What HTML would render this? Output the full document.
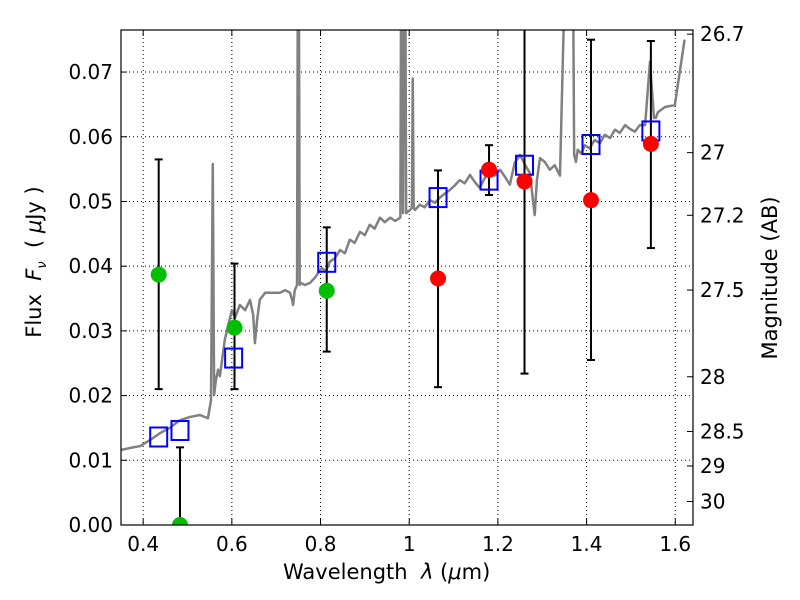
<!DOCTYPE html>
<html><head><meta charset="utf-8">
<style>
body{margin:0;background:#fff;}
svg{display:block;font-family:"DejaVu Sans","Liberation Sans",sans-serif;}
</style></head>
<body>
<svg id="chart" width="800" height="600" viewBox="0 0 800 600"></svg>
<script>
// ---- data ----
const specWave = [0.350,0.370,0.393,0.415,0.438,0.460,0.483,0.506,0.528,0.546,0.553,0.557,0.560,0.564,0.569,0.573,0.578,0.584,0.600,0.607,0.618,0.630,0.641,0.648,0.652,0.657,0.663,0.675,0.686,0.709,0.720,0.731,0.736,0.738,0.742,0.747,0.749,0.751,0.753,0.756,0.765,0.776,0.787,0.803,0.812,0.821,0.832,0.844,0.855,0.866,0.877,0.889,0.900,0.911,0.922,0.934,0.945,0.957,0.968,0.980,0.982,0.984,0.986,0.989,0.991,0.993,1.002,1.006,1.008,1.010,1.013,1.024,1.035,1.047,1.058,1.069,1.080,1.092,1.103,1.114,1.125,1.137,1.148,1.159,1.170,1.182,1.193,1.205,1.216,1.227,1.238,1.250,1.261,1.272,1.283,1.288,1.295,1.306,1.317,1.328,1.340,1.353,1.358,1.362,1.369,1.372,1.376,1.380,1.388,1.396,1.407,1.418,1.430,1.441,1.453,1.464,1.475,1.487,1.498,1.509,1.520,1.532,1.543,1.552,1.556,1.561,1.577,1.599,1.621,1.632,1.640];
const specFlux = [0.0116,0.0119,0.0122,0.0131,0.0142,0.0150,0.0162,0.0167,0.0170,0.0165,0.0193,0.0558,0.0201,0.0224,0.0240,0.0230,0.0255,0.0286,0.0332,0.0320,0.0340,0.0332,0.0348,0.0325,0.0281,0.0317,0.0348,0.0359,0.0359,0.0359,0.0363,0.0359,0.0348,0.0340,0.0363,0.0371,0.09,0.09,0.0371,0.0374,0.0371,0.0374,0.0382,0.0397,0.0392,0.0407,0.0412,0.0425,0.0420,0.0441,0.0436,0.0453,0.0448,0.0464,0.0458,0.0475,0.0468,0.0475,0.0470,0.0475,0.09,0.09,0.0482,0.09,0.09,0.0482,0.0487,0.0490,0.0690,0.0490,0.0487,0.0495,0.0491,0.0502,0.0498,0.0506,0.0512,0.0518,0.0525,0.0533,0.0528,0.0541,0.0530,0.0521,0.0536,0.0546,0.0540,0.0549,0.0538,0.0526,0.0560,0.0572,0.0557,0.0544,0.0479,0.0533,0.0567,0.0561,0.0549,0.0556,0.0540,0.09,0.09,0.09,0.09,0.0572,0.0561,0.0580,0.0574,0.0587,0.0582,0.0595,0.0590,0.0603,0.0598,0.0611,0.0606,0.0618,0.0612,0.0608,0.0618,0.0618,0.0716,0.0629,0.0629,0.0638,0.0646,0.0649,0.075];
const greenWave = [0.435,0.483,0.606,0.814];
const greenFlux = [0.0387,0.0,0.0305,0.0362];
const greenLo = [0.021,0.0,0.021,0.0268];
const greenHi = [0.0565,0.012,0.0404,0.046];
const redWave = [1.065,1.180,1.260,1.410,1.545];
const redFlux = [0.0381,0.0549,0.0531,0.0502,0.0589];
const redLo = [0.0213,0.0510,0.0234,0.0255,0.0428];
const redHi = [0.0548,0.0587,0.0800,0.0750,0.0748];
const modelWave = [0.435,0.483,0.604,0.814,1.065,1.180,1.260,1.410,1.545];
const modelFlux = [0.0136,0.0146,0.0258,0.0406,0.0506,0.0533,0.0556,0.0588,0.0609];
const xTicks = [0.4,0.6,0.8,1.0,1.2,1.4,1.6];
const xTickLabels = ["0.4","0.6","0.8","1","1.2","1.4","1.6"];
const yTicks = [0,0.01,0.02,0.03,0.04,0.05,0.06,0.07];
const yTickLabels = ["0.00","0.01","0.02","0.03","0.04","0.05","0.06","0.07"];
const magTicks = [26.7,27,27.2,27.5,28,28.5,29,30];
const magTickLabels = ["26.7","27","27.2","27.5","28","28.5","29","30"];

// ---- axes ----
const L=121,R=693,T=30,B=525;
const xMin=0.35,xMax=1.64,yMin=0,yMax=0.0765;
const X=v=>L+(v-xMin)/(xMax-xMin)*(R-L);
const Y=v=>B-(v-yMin)/(yMax-yMin)*(B-T);
const magToFlux=m=>Math.pow(10,(23.9-m)/2.5);
const NS="http://www.w3.org/2000/svg";
const svg=document.getElementById('chart');
function mk(tag,attrs,parent){const e=document.createElementNS(NS,tag);for(const k in attrs)e.setAttribute(k,attrs[k]);(parent||svg).appendChild(e);return e;}

const defs=mk('defs',{});
const cp=mk('clipPath',{id:'clip'},defs);
mk('rect',{x:L,y:T,width:R-L,height:B-T},cp);

const grid=mk('g',{});


xTicks.forEach(v=>mk('line',{x1:X(v),x2:X(v),y1:T,y2:B,stroke:'#000','stroke-width':1,'stroke-dasharray':'1,3'},grid));
yTicks.forEach(v=>mk('line',{x1:L,x2:R,y1:Y(v),y2:Y(v),stroke:'#000','stroke-width':1,'stroke-dasharray':'1,3'},grid));

const plot=mk('g',{'clip-path':'url(#clip)'});
const sp=mk('polyline',{points:specWave.map((w,i)=>X(w)+','+Y(specFlux[i])).join(' '),fill:'none',stroke:'#808080','stroke-width':2.5,'stroke-linejoin':'round'},plot);



function errbars(ws,lo,hi,name){
  const g=mk('g',{},plot);
  
  
  ws.forEach((w,i)=>{
    const x=X(w);
    mk('line',{x1:x,x2:x,y1:Y(lo[i]),y2:Y(hi[i]),stroke:'#000','stroke-width':2},g);
    mk('line',{x1:x-4,x2:x+4,y1:Y(lo[i]),y2:Y(lo[i]),stroke:'#000','stroke-width':2},g);
    mk('line',{x1:x-4,x2:x+4,y1:Y(hi[i]),y2:Y(hi[i]),stroke:'#000','stroke-width':2},g);
  });
}
errbars(greenWave,greenLo,greenHi,'green-error-bars');
errbars(redWave,redLo,redHi,'red-error-bars');

const gm=mk('g',{},plot);


modelWave.forEach((w,i)=>{
  const r=mk('rect',{x:X(w)-8.5,y:Y(modelFlux[i])-9.5,width:17,height:19,fill:'none',stroke:'#0000ff','stroke-width':2},gm);
  
  
});
const gg=mk('g',{},plot);


greenWave.forEach((w,i)=>{
  const c=mk('circle',{cx:X(w),cy:Y(greenFlux[i]),r:8,fill:'#00bf00'},gg);
  
  
});
const gr=mk('g',{},plot);


redWave.forEach((w,i)=>{
  const c=mk('circle',{cx:X(w),cy:Y(redFlux[i]),r:8,fill:'#ff0000'},gr);
  
  
});

const fr=mk('rect',{x:L,y:T,width:R-L,height:B-T,fill:'none',stroke:'#000','stroke-width':1.2});



const xa=mk('g',{});


xTicks.forEach((v,i)=>{
  const x=X(v);
  mk('line',{x1:x,x2:x,y1:B,y2:B-6,stroke:'#000'},xa);
  mk('line',{x1:x,x2:x,y1:T,y2:T+6,stroke:'#000'},xa);
  const t=mk('text',{x:x,y:B+26,'text-anchor':'middle','font-size':20},xa);
  t.textContent=xTickLabels[i];
});
const ya=mk('g',{});


yTicks.forEach((v,i)=>{
  const y=Y(v);
  mk('line',{x1:L,x2:L+6,y1:y,y2:y,stroke:'#000'},ya);
  const t=mk('text',{x:L-8,y:y+7,'text-anchor':'end','font-size':20},ya);
  t.textContent=yTickLabels[i];
});
const ma=mk('g',{});


magTicks.forEach((m,i)=>{
  const y=Y(magToFlux(m));
  mk('line',{x1:R,x2:R-6,y1:y,y2:y,stroke:'#000'},ma);
  const t=mk('text',{x:R+7,y:y+7,'text-anchor':'start','font-size':20},ma);
  t.textContent=magTickLabels[i];
});
</script>
<div style="position:absolute;left:0;top:0;width:800px;height:600px;pointer-events:none;font-family:'DejaVu Sans','Liberation Sans',sans-serif;">
  <div style="position:absolute;left:283px;top:560px;font-size:21px;white-space:nowrap;">Wavelength&nbsp; <i>λ</i> (<i>μ</i>m)</div>
  <div style="position:absolute;left:36px;top:262px;font-size:21px;white-space:nowrap;transform:translate(-50%,-50%) rotate(-90deg);">Flux&nbsp; <i>F<sub style="font-size:13px">ν</sub></i>&nbsp; ( <i>μ</i>Jy )</div>
  <div style="position:absolute;left:770px;top:278px;font-size:21px;white-space:nowrap;transform:translate(-50%,-50%) rotate(-90deg);">Magnitude (AB)</div>
</div>
</body></html>
